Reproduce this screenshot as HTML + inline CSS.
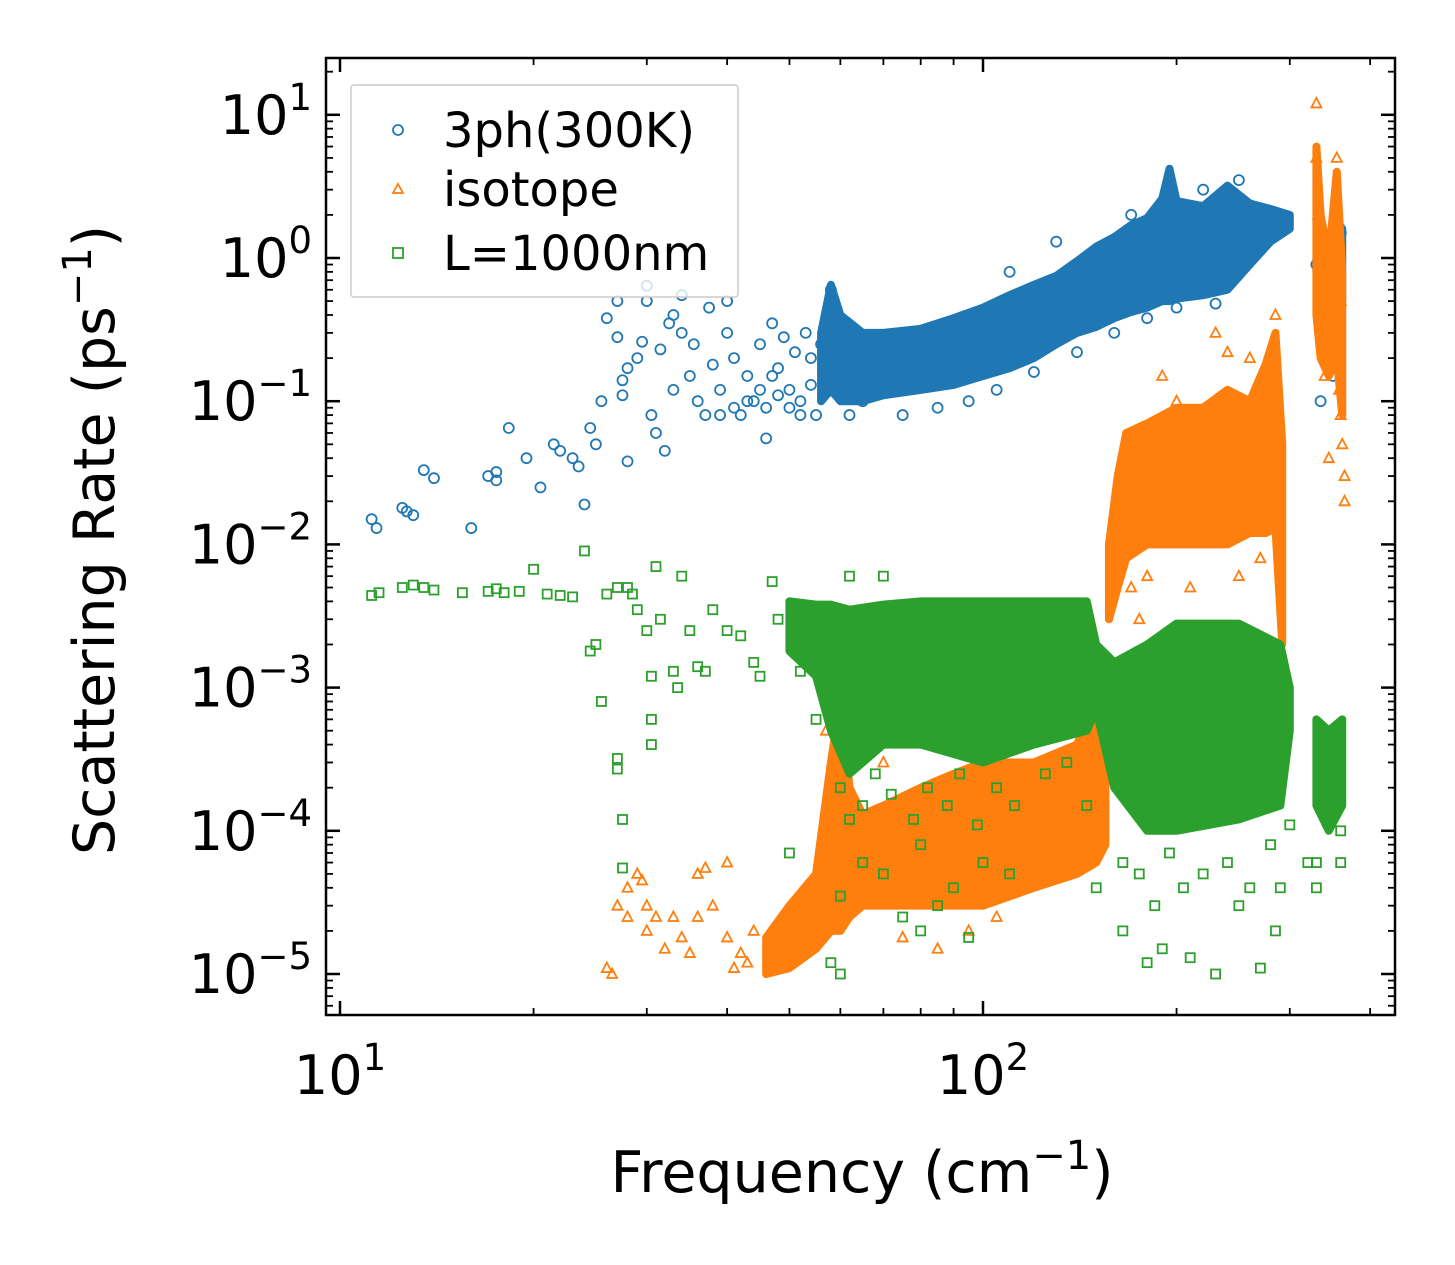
<!DOCTYPE html>
<html><head><meta charset="utf-8"><style>
html,body{margin:0;padding:0;background:#fff;}
svg{display:block;font-family:"DejaVu Sans","Liberation Sans",sans-serif;}
</style></head><body>
<svg id="chart" width="1455" height="1265" viewBox="0 0 1455 1265" xmlns="http://www.w3.org/2000/svg">
<rect width="1455" height="1265" fill="#fff"/>
<g id="plot"></g>
<g id="axes"></g>
<text transform="translate(114,540) rotate(-90)" text-anchor="middle" font-size="57">Scattering Rate (ps<tspan font-size="40" dy="-23">−1</tspan><tspan dy="23">)</tspan></text>
<text x="862" y="1192" text-anchor="middle" font-size="57">Frequency (cm<tspan font-size="40" dy="-23">−1</tspan><tspan dy="23">)</tspan></text>
<g>
<rect x="351" y="85" width="387" height="212" fill="#fff" fill-opacity="0.8" stroke="#ccc" stroke-width="1.5" rx="3"/>
<g><circle cx="398" cy="130" r="5" fill="none" stroke="#1f77b4" stroke-width="1.8"/><text x="443" y="147" font-size="48">3ph(300K)</text></g>
<g><polygon points="398,184 403,193 393,193" fill="none" stroke="#ff7f0e" stroke-width="1.8"/><text x="443" y="206" font-size="48">isotope</text></g>
<g><rect x="393" y="248" width="10" height="10" fill="none" stroke="#2ca02c" stroke-width="1.8"/><text x="443" y="270" font-size="48">L=1000nm</text></g>
</g>
</svg>
<script>
// ---- data ----
const xTicks = [10, 100];
const yTicks = [1, 0, -1, -2, -3, -4, -5];
const blueBand = [[56,0.1,0.3],[58,0.12,0.65],[60,0.1,0.4],[65,0.1,0.3],[70,0.11,0.3],[80,0.12,0.32],[90,0.13,0.38],[100,0.15,0.45],[110,0.17,0.55],[120,0.2,0.65],[130,0.25,0.75],[140,0.3,0.95],[150,0.33,1.2],[160,0.38,1.4],[170,0.42,1.7],[180,0.45,1.9],[190,0.5,2.6],[195,0.5,4.2],[200,0.52,2.5],[220,0.55,2.3],[240,0.6,3.2],[260,0.9,2.4],[280,1.3,2.2],[300,1.6,2.0]];
const blueBand2 = [[330,0.8,1.0],[355,0.3,1.8],[362,0.5,1.6]];
const bluePts = [[11.2,0.015],[11.4,0.013],[12.5,0.018],[12.7,0.017],[13,0.016],[13.5,0.033],[14,0.029],[16,0.013],[17,0.03],[17.5,0.032],[17.5,0.028],[18.3,0.065],[19.5,0.04],[20.5,0.025],[21.5,0.05],[22,0.045],[23,0.04],[23.5,0.035],[24,0.019],[24.5,0.065],[25,0.05],[25.5,0.1],[26,0.38],[27,0.5],[27,0.28],[27.5,0.14],[27.5,0.11],[28,0.038],[28,0.17],[29,0.2],[29.5,0.26],[30,0.5],[30,0.64],[30.5,0.08],[31,0.06],[31.5,0.23],[32,0.045],[32.5,0.35],[33,0.12],[33,0.4],[34,0.55],[34,0.3],[35,0.15],[35.5,0.25],[36,0.1],[37,0.08],[37.5,0.45],[38,0.18],[39,0.12],[40,0.5],[40,0.3],[41,0.2],[42,0.08],[43,0.15],[45,0.25],[46,0.055],[47,0.35],[48,0.17],[50,0.12],[52,0.08],[54,0.2],[58,0.6],[62,0.08],[65,0.1],[75,0.08],[44,0.1],[46,0.09],[48,0.11],[50,0.09],[52,0.1],[54,0.13],[55,0.08],[56,0.25],[53,0.3],[51,0.22],[49,0.28],[47,0.15],[45,0.12],[43,0.1],[41,0.09],[39,0.08],[85,0.09],[95,0.1],[105,0.12],[120,0.16],[140,0.22],[160,0.3],[180,0.38],[200,0.45],[230,0.48],[110,0.8],[130,1.3],[150,1.0],[170,2.0],[190,1.6],[220,3.0],[250,3.5],[330,0.9],[335,0.35],[335,0.1],[340,0.2],[350,0.15],[355,1.7],[355,0.5],[358,0.2],[360,1.5]];
const orangeBandA = [[46,1e-5,1.8e-5],[50,1.1e-5,3e-5],[55,1.5e-5,5e-5],[58,2e-5,3e-4],[60,2e-5,8e-4],[62,2.5e-5,2e-4],[65,3e-5,1.3e-4],[70,3e-5,1.5e-4],[80,3e-5,2e-4],[90,3e-5,2.5e-4],[100,3e-5,3e-4],[120,4e-5,3e-4],[140,5e-5,4e-4],[150,6e-5,8e-4],[155,8e-5,1.5e-3]];
const orangeBandB = [[157,3e-3,1e-2],[162,5e-3,3e-2],[167,8e-3,0.06],[180,1e-2,0.07],[200,1e-2,0.09],[220,1e-2,0.09],[240,1e-2,0.12],[260,1.2e-2,0.1],[275,1.2e-2,0.18],[285,1.3e-2,0.3],[292,2e-3,0.05]];
const orangeBandC = [[330,0.4,6],[335,0.2,2],[345,0.15,1],[355,0.2,4],[362,0.08,0.8]];
const orangePts = [[26,1.1e-5],[26.5,1e-5],[27,3e-5],[28,4e-5],[28,2.5e-5],[29,5e-5],[29.5,4.5e-5],[30,3e-5],[30,2e-5],[31,2.5e-5],[32,1.5e-5],[33,2.5e-5],[34,1.8e-5],[35,1.4e-5],[36,5e-5],[36,2.5e-5],[37,5.5e-5],[38,3e-5],[40,1.8e-5],[40,6e-5],[41,1.1e-5],[42,1.4e-5],[43,1.2e-5],[44,2e-5],[163,0.013],[170,0.03],[175,3e-3],[190,0.15],[200,0.1],[230,0.3],[240,0.22],[260,0.2],[285,0.4],[330,12],[330,5],[332,2],[335,0.7],[340,0.15],[345,0.04],[350,0.5],[355,5],[355,2],[360,0.5],[360,0.08],[362,0.05],[365,0.03],[365,0.02],[358,0.12],[57,5e-4],[58,2e-4],[62,1e-3],[70,3e-4],[90,4e-4],[110,5e-4],[130,6e-4],[75,1.8e-5],[85,1.5e-5],[95,2e-5],[105,2.5e-5],[170,5e-3],[180,6e-3],[210,5e-3],[250,6e-3],[270,8e-3]];
const greenBand = [[50,1.8e-3,4e-3],[55,1.2e-3,3.8e-3],[58,5e-4,3.8e-3],[62,2.5e-4,3.5e-3],[70,4e-4,3.8e-3],[80,4e-4,4e-3],[100,3e-4,4e-3],[120,4e-4,4e-3],[145,5e-4,4e-3],[150,7e-4,2e-3],[160,2e-4,1.5e-3],[180,1e-4,2e-3],[200,1e-4,2.8e-3],[250,1.2e-4,2.8e-3],[290,1.5e-4,2e-3],[300,5e-4,1e-3]];
const greenBand2 = [[330,1.5e-4,6e-4],[345,1e-4,5e-4],[362,1.5e-4,6e-4]];
const greenPts = [[11.2,4.4e-3],[11.5,4.6e-3],[12.5,5e-3],[13,5.2e-3],[13.5,5e-3],[14,4.8e-3],[15.5,4.6e-3],[17,4.7e-3],[17.5,4.9e-3],[18,4.6e-3],[19,4.7e-3],[20,6.7e-3],[21,4.5e-3],[22,4.4e-3],[23,4.3e-3],[24,9e-3],[24.5,1.8e-3],[25,2e-3],[25.5,8e-4],[26,4.5e-3],[27,5e-3],[27,3.2e-4],[27,2.7e-4],[27.5,1.2e-4],[27.5,5.5e-5],[28,5e-3],[28.5,4.5e-3],[29,3.5e-3],[30,2.5e-3],[30.5,1.2e-3],[30.5,6e-4],[30.5,4e-4],[31,7e-3],[31.5,3e-3],[33,1.3e-3],[33.5,1e-3],[34,6e-3],[35,2.5e-3],[36,1.4e-3],[37,1.3e-3],[38,3.5e-3],[40,2.5e-3],[42,2.3e-3],[44,1.5e-3],[45,1.2e-3],[47,5.5e-3],[48,3e-3],[50,7e-5],[52,1.3e-3],[55,6e-4],[58,1.2e-5],[60,1e-5],[62,6e-3],[70,6e-3],[75,2.5e-5],[80,2e-5],[85,3e-5],[95,1.8e-5],[60,2e-4],[62,1.2e-4],[65,1.5e-4],[68,2.5e-4],[72,1.8e-4],[78,1.2e-4],[82,2e-4],[88,1.5e-4],[92,2.5e-4],[98,1.1e-4],[105,2e-4],[112,1.5e-4],[125,2.5e-4],[135,3e-4],[145,1.5e-4],[60,3.5e-5],[65,6e-5],[70,5e-5],[80,8e-5],[90,4e-5],[100,6e-5],[110,5e-5],[150,4e-5],[165,6e-5],[175,5e-5],[185,3e-5],[195,7e-5],[205,4e-5],[220,5e-5],[240,6e-5],[260,4e-5],[280,8e-5],[165,2e-5],[180,1.2e-5],[190,1.5e-5],[210,1.3e-5],[230,1e-5],[250,3e-5],[270,1.1e-5],[285,2e-5],[290,4e-5],[300,1.1e-4],[320,6e-5],[330,6e-5],[330,4e-5],[360,6e-5],[360,1e-4],[340,2e-4]];

// ---- scales ----
const L=326,R=1395,T=58,B=1015;
const X = f => 983 + (Math.log10(f)-2)*643;
const Y = v => 258 - Math.log10(v)*143.2;
const NS='http://www.w3.org/2000/svg';
const plot=document.getElementById('plot'), axes=document.getElementById('axes');
function mk(tag, attrs, parent){const e=document.createElementNS(NS,tag);for(const k in attrs)e.setAttribute(k,attrs[k]);parent.appendChild(e);return e;}

function band(data,color,name){
  const up=data.map(d=>X(d[0])+','+Y(d[2])), lo=data.slice().reverse().map(d=>X(d[0])+','+Y(d[1]));
  const p=mk('polygon',{points:up.concat(lo).join(' '),fill:color,stroke:color,'stroke-width':8,'stroke-linejoin':'round'},plot);
  
  
}
function pts(data,color,shape,name){
  const g=mk('g',{fill:'none',stroke:color,'stroke-width':1.8},plot);
  
  
  data.forEach(d=>{
    const x=X(d[0]),y=Y(d[1]);let e;
    if(shape==='o') e=mk('circle',{cx:x,cy:y,r:5},g);
    else if(shape==='^') e=mk('polygon',{points:`${x},${y-5.5} ${x+5},${y+4} ${x-5},${y+4}`},g);
    else e=mk('rect',{x:x-4.5,y:y-4.5,width:9,height:9},g);
    
    
  });
}
band(blueBand,'#1f77b4','band-3ph'); band(blueBand2,'#1f77b4','band-3ph-high');
pts(bluePts,'#1f77b4','o','series-3ph');
band(orangeBandA,'#ff7f0e','band-isotope-low'); band(orangeBandB,'#ff7f0e','band-isotope-mid'); band(orangeBandC,'#ff7f0e','band-isotope-high');
pts(orangePts,'#ff7f0e','^','series-isotope');
band(greenBand,'#2ca02c','band-boundary'); band(greenBand2,'#2ca02c','band-boundary-high');
pts(greenPts,'#2ca02c','s','series-boundary');

// ---- axes ----
const frame=mk('rect',{x:L,y:T,width:R-L,height:B-T,fill:'none',stroke:'#000','stroke-width':2.5},axes);


function tick(x1,y1,x2,y2,w){mk('line',{x1,y1,x2,y2,stroke:'#000','stroke-width':w},axes);}
for(let dec=0;dec<=2;dec++){for(let m=1;m<10;m++){const f=m*Math.pow(10,dec);const x=X(f);if(x<L||x>R)continue;const len=m===1?14:7;const w=m===1?2.5:1.8;tick(x,B,x,B-len,w);tick(x,T,x,T+len,w);}}
for(let e=-6;e<=1;e++){for(let m=1;m<10;m++){const v=m*Math.pow(10,e);const y=Y(v);if(y<T||y>B)continue;const len=m===1?14:7;const w=m===1?2.5:1.8;tick(L,y,L+len,y,w);tick(R,y,R-len,y,w);}}
xTicks.forEach(f=>{
  const t=mk('text',{x:X(f),y:1094,'text-anchor':'middle','font-size':54},axes);
  
  
  t.appendChild(document.createTextNode('10'));
  const s=mk('tspan',{'font-size':37,dy:-24},t);s.textContent=String(Math.round(Math.log10(f)));
});
yTicks.forEach(e=>{
  const t=mk('text',{x:312,y:Y(Math.pow(10,e))+19,'text-anchor':'end','font-size':54},axes);
  
  
  t.appendChild(document.createTextNode('10'));
  const s=mk('tspan',{'font-size':37,dy:-24},t);s.textContent=(e<0?'−':'')+Math.abs(e);
});
</script>
</body></html>
